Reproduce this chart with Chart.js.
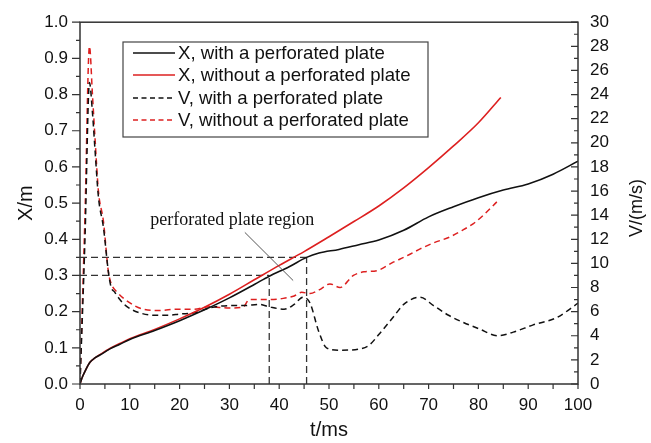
<!DOCTYPE html>
<html>
<head>
<meta charset="utf-8">
<script src="https://cdn.jsdelivr.net/npm/chart.js@4/dist/chart.umd.min.js"></script>
<style>
  html, body { margin: 0; padding: 0; background: #fff; }
  #wrap { width: 651px; height: 443px; }
</style>
</head>
<body>
<div id="wrap"><canvas id="c" width="651" height="443"></canvas></div>
<script>
// displacement X (m), with perforated plate
const xWithT = [0, 0.5, 1, 2, 3, 4, 6, 8, 10, 15, 20, 25, 30, 35, 38, 42, 45.5, 48, 52, 56, 60, 65, 70, 75, 80, 85, 90, 95, 100];
const xWithVal = [0, 0.02, 0.035, 0.06, 0.072, 0.08, 0.097, 0.11, 0.123, 0.148, 0.175, 0.205, 0.238, 0.275, 0.298, 0.324, 0.35, 0.362, 0.372, 0.385, 0.398, 0.425, 0.462, 0.49, 0.515, 0.536, 0.553, 0.58, 0.616];

// displacement X (m), without perforated plate
const xWithoutT = [0, 0.5, 1, 2, 3, 4, 6, 8, 10, 15, 20, 25, 30, 35, 40, 45, 50, 55, 60, 65, 70, 75, 80, 84.5];
const xWithoutVal = [0, 0.02, 0.035, 0.06, 0.072, 0.081, 0.098, 0.112, 0.125, 0.151, 0.18, 0.212, 0.248, 0.288, 0.328, 0.366, 0.407, 0.449, 0.492, 0.542, 0.598, 0.658, 0.722, 0.792];

// velocity V (m/s), with perforated plate
const vWithT = [0, 1, 1.9, 2.5, 3, 3.7, 4.7, 5.7, 6.2, 7, 8, 9.5, 12, 15, 18, 20, 23, 26, 30, 33, 36, 38, 41, 43, 44.8, 46.2, 47.9, 49.5, 52, 56, 58, 60, 63, 65, 68.3, 71, 74, 77, 80, 84, 87, 91, 95.7, 100];
const vWithVal = [0, 12, 25, 22.5, 19.5, 15.5, 13, 9.3, 8.1, 7.6, 7.0, 6.4, 5.9, 5.7, 5.7, 5.8, 5.9, 6.3, 6.5, 6.5, 6.6, 6.4, 6.2, 6.6, 7.2, 6.7, 4.4, 3.0, 2.8, 2.9, 3.2, 4.1, 5.6, 6.6, 7.2, 6.5, 5.7, 5.1, 4.6, 4.0, 4.3, 4.9, 5.5, 6.7];

// velocity V (m/s), without perforated plate
const vWithoutT = [0, 1, 1.9, 2.5, 3, 3.7, 4.7, 5.7, 6.2, 7.5, 9.4, 12.7, 16, 19.4, 22.8, 26, 30, 32.8, 34, 38, 40.8, 43, 44.5, 46.2, 48, 50.2, 52.2, 54.9, 57, 59.6, 62.9, 65.5, 68.3, 71, 74.3, 77, 79, 81, 83.7];
const vWithoutVal = [0, 14, 28, 24, 20.5, 16, 13.5, 9.3, 8.4, 7.6, 6.9, 6.2, 6.1, 6.2, 6.2, 6.4, 6.3, 6.4, 7.0, 7.0, 7.1, 7.3, 7.6, 7.5, 7.8, 8.3, 8.0, 9.0, 9.3, 9.4, 10.1, 10.6, 11.2, 11.7, 12.2, 12.8, 13.3, 14.0, 15.1];

// perforated plate region guide lines (t, X)
const guideT = [38, 45.5];
const guideX = [0.30, 0.35];

const seriesLabels = [
  "X, with a perforated plate",
  "X, without a perforated plate",
  "V, with a perforated plate",
  "V, without a perforated plate",
];
const annotationText = "perforated plate region";
const annotationAnchor = [14.1, 0.439];       // text start (t, X)
const annotationLeader = [[33.1, 0.419], [42.8, 0.286]];

const RED = "#dd2020";
const BLACK = "#111111";
const AXIS = "#333333";

function pts(ts, vs) {
  return ts.map((t, i) => ({ x: t, y: vs[i] }));
}

const guideSets = [];
guideT.forEach((t, i) => {
  guideSets.push({
    data: [{ x: 0, y: guideX[i] }, { x: t, y: guideX[i] }],
    borderColor: "#333", borderWidth: 1.3, borderDash: [7, 4],
    pointRadius: 0, yAxisID: "y", tension: 0,
  });
  guideSets.push({
    data: [{ x: t, y: 0 }, { x: t, y: guideX[i] }],
    borderColor: "#333", borderWidth: 1.3, borderDash: [7, 4],
    pointRadius: 0, yAxisID: "y", tension: 0,
  });
});

// minor/major tick marks, frame, legend, annotation
const decorPlugin = {
  id: "decor",
  afterDraw(chart) {
    const { ctx, chartArea: a, scales } = chart;
    ctx.save();
    ctx.strokeStyle = AXIS;
    ctx.lineWidth = 1.5;
    ctx.strokeRect(a.left, a.top, a.right - a.left, a.bottom - a.top);

    ctx.lineWidth = 1.2;
    ctx.beginPath();
    for (let i = 0; i <= 20; i++) {
      const y = scales.y.getPixelForValue(i * 0.05);
      const len = i % 2 === 0 ? 8 : 4;
      ctx.moveTo(a.left - len, y); ctx.lineTo(a.left, y);
    }
    for (let i = 0; i <= 30; i++) {
      const y = scales.y1.getPixelForValue(i);
      const len = i % 2 === 0 ? 7 : 4;
      ctx.moveTo(a.right - len, y); ctx.lineTo(a.right, y);
    }
    for (let i = 0; i <= 20; i++) {
      const x = scales.x.getPixelForValue(i * 5);
      ctx.moveTo(x, a.bottom); ctx.lineTo(x, a.bottom + 5);
    }
    ctx.stroke();

    // right axis title, rotated like the left one
    ctx.fillStyle = "#111";
    ctx.font = "18px 'Liberation Sans', Arial, sans-serif";
    ctx.translate(637, (a.top + a.bottom) / 2 + 5);
    ctx.rotate(-Math.PI / 2);
    ctx.textAlign = "center";
    ctx.textBaseline = "middle";
    ctx.fillText("V/(m/s)", 0, 0);
    ctx.setTransform(1, 0, 0, 1, 0, 0);

    // legend box
    const lx = 123, ly = 42, lw = 305, lh = 95;
    ctx.fillStyle = "#fff";
    ctx.fillRect(lx, ly, lw, lh);
    ctx.strokeStyle = "#444";
    ctx.lineWidth = 1.2;
    ctx.strokeRect(lx, ly, lw, lh);
    ctx.font = "18.6px 'Liberation Sans', Arial, sans-serif";
    ctx.textAlign = "left";
    ctx.textBaseline = "middle";
    const rows = [53, 75, 98, 120];
    for (let i = 0; i < 4; i++) {
      const ds = chart.data.datasets[i];
      ctx.strokeStyle = ds.borderColor;
      ctx.lineWidth = 1.5;
      ctx.setLineDash(ds.borderDash ? [5, 3.5] : []);
      ctx.beginPath();
      ctx.moveTo(133, rows[i]); ctx.lineTo(175, rows[i]);
      ctx.stroke();
      ctx.setLineDash([]);
      ctx.fillStyle = "#111";
      ctx.fillText(seriesLabels[i], 178, rows[i] + 1);
    }

    // annotation
    ctx.font = "18px 'Liberation Serif', 'Times New Roman', serif";
    ctx.textBaseline = "alphabetic";
    ctx.fillStyle = "#111";
    ctx.fillText(annotationText,
      scales.x.getPixelForValue(annotationAnchor[0]),
      scales.y.getPixelForValue(annotationAnchor[1]));
    ctx.strokeStyle = "#555";
    ctx.lineWidth = 1;
    ctx.beginPath();
    ctx.moveTo(scales.x.getPixelForValue(annotationLeader[0][0]), scales.y.getPixelForValue(annotationLeader[0][1]));
    ctx.lineTo(scales.x.getPixelForValue(annotationLeader[1][0]), scales.y.getPixelForValue(annotationLeader[1][1]));
    ctx.stroke();
    ctx.restore();
  },
};

const tickFont = { family: "'Liberation Sans', Arial, sans-serif", size: 17 };

new Chart(document.getElementById("c"), {
  type: "line",
  data: {
    datasets: [
      { data: pts(xWithT, xWithVal), borderColor: BLACK, borderWidth: 1.6, yAxisID: "y", cubicInterpolationMode: "monotone" },
      { data: pts(xWithoutT, xWithoutVal), borderColor: RED, borderWidth: 1.6, yAxisID: "y", cubicInterpolationMode: "monotone" },
      { data: pts(vWithT, vWithVal), borderColor: BLACK, borderWidth: 1.5, borderDash: [6, 4], yAxisID: "y1", cubicInterpolationMode: "monotone" },
      { data: pts(vWithoutT, vWithoutVal), borderColor: RED, borderWidth: 1.5, borderDash: [6, 4], yAxisID: "y1", cubicInterpolationMode: "monotone" },
      ...guideSets,
    ],
  },
  options: {
    responsive: false,
    animation: false,
    layout: { padding: { top: 15, left: 0, right: 0, bottom: 0 } },
    elements: { point: { radius: 0 } },
    plugins: { legend: { display: false }, tooltip: { enabled: false } },
    scales: {
      x: {
        type: "linear", min: 0, max: 100,
        afterFit: (s) => { s.height = 59; },
        grid: { display: false, drawTicks: false },
        border: { display: false },
        ticks: { stepSize: 10, padding: 11, color: "#111", font: tickFont },
        title: { display: true, text: "t/ms", color: "#111", font: { family: "'Liberation Sans', Arial, sans-serif", size: 20 }, padding: { top: 0, bottom: 1 } },
      },
      y: {
        position: "left", min: 0, max: 1,
        afterFit: (s) => { s.width = 80; },
        grid: { display: false, drawTicks: false },
        border: { display: false },
        ticks: { stepSize: 0.1, padding: 12, color: "#111", font: tickFont, callback: (v) => v.toFixed(1) },
        title: { display: true, text: "X/m", color: "#111", font: { family: "'Liberation Sans', Arial, sans-serif", size: 20 }, padding: { top: 14, bottom: 0 } },
      },
      y1: {
        position: "right", min: 0, max: 30,
        afterFit: (s) => { s.width = 73; },
        grid: { display: false, drawTicks: false },
        border: { display: false },
        ticks: { stepSize: 2, padding: 12, color: "#111", font: tickFont },
      },
    },
  },
  plugins: [decorPlugin],
});
</script>
</body>
</html>
